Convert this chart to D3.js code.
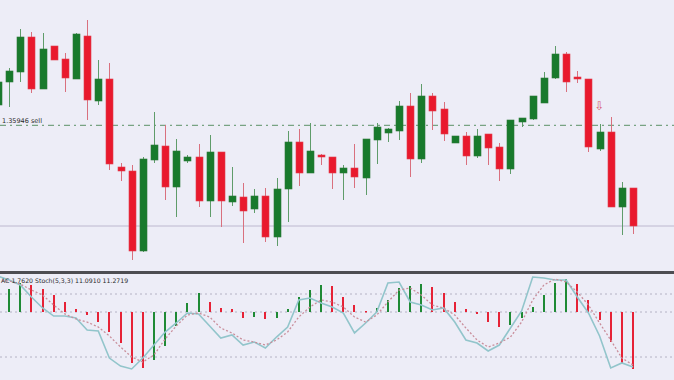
<!DOCTYPE html>
<html><head><meta charset="utf-8">
<script src="https://cdn.jsdelivr.net/npm/d3@7"></script>
<style>html,body{margin:0;padding:0;background:#ededf7;}svg{display:block;}</style>
</head><body>
<svg id="c" width="674" height="380"></svg>
<script>
// ---- data ----
const openP  = [1.3615,1.3638,1.3648,1.3683,1.3631,1.3674,1.3661,1.3641,1.3684,1.3619,1.3641,1.3553,1.3549,1.3469,1.3560,1.3574,1.3533,1.3559,1.3563,1.3519,1.3568,1.3518,1.3523,1.3511,1.3524,1.3483,1.3531,1.3578,1.3547,1.3565,1.3563,1.3547,1.3552,1.3542,1.3580,1.3587,1.3589,1.3614,1.3561,1.3624,1.3611,1.3577,1.3584,1.3564,1.3586,1.3573,1.3551,1.3598,1.3601,1.3617,1.3642,1.3666,1.3643,1.3641,1.3571,1.3588,1.3513,1.3532];
const highP  = [1.3645,1.3652,1.3691,1.3688,1.3687,1.3674,1.3667,1.3687,1.3700,1.3660,1.3657,1.3557,1.3555,1.3563,1.3608,1.3595,1.3581,1.3565,1.3576,1.3585,1.3568,1.3553,1.3537,1.3531,1.3532,1.3542,1.3589,1.3591,1.3597,1.3566,1.3563,1.3555,1.3576,1.3581,1.3597,1.3592,1.3619,1.3627,1.3636,1.3627,1.3618,1.3584,1.3588,1.3591,1.3586,1.3577,1.3600,1.3602,1.3624,1.3648,1.3674,1.3668,1.3649,1.3641,1.3596,1.3603,1.3538,1.3532];
const lowP   = [1.3608,1.3613,1.3638,1.3627,1.3631,1.3660,1.3628,1.3641,1.3600,1.3615,1.3550,1.3539,1.3460,1.3468,1.3557,1.3520,1.3503,1.3557,1.3513,1.3503,1.3493,1.3514,1.3477,1.3507,1.3478,1.3474,1.3498,1.3534,1.3547,1.3555,1.3531,1.3520,1.3532,1.3525,1.3556,1.3578,1.3580,1.3543,1.3557,1.3590,1.3579,1.3577,1.3555,1.3562,1.3555,1.3539,1.3546,1.3593,1.3600,1.3617,1.3641,1.3628,1.3637,1.3568,1.3569,1.3513,1.3485,1.3486];
const closeP = [1.3638,1.3649,1.3683,1.3631,1.3671,1.3660,1.3642,1.3686,1.3620,1.3641,1.3556,1.3549,1.3469,1.3561,1.3575,1.3533,1.3569,1.3563,1.3519,1.3568,1.3519,1.3524,1.3509,1.3524,1.3483,1.3531,1.3578,1.3547,1.3569,1.3563,1.3547,1.3552,1.3543,1.3581,1.3593,1.3591,1.3614,1.3561,1.3624,1.3609,1.3586,1.3584,1.3564,1.3584,1.3572,1.3551,1.3600,1.3602,1.3624,1.3642,1.3666,1.3638,1.3641,1.3573,1.3588,1.3513,1.3532,1.3494];
const acValues = [0.0018,0.0023,0.0029,0.0027,0.0023,0.0017,0.0010,0.0003,-0.0003,-0.0010,-0.0020,-0.0031,-0.0051,-0.0056,-0.0048,-0.0034,-0.0014,0.0009,0.0019,0.0010,0.0004,0.0003,-0.0006,-0.0005,-0.0007,-0.0006,0.0003,0.0015,0.0022,0.0027,0.0026,0.0015,0.0007,0.0001,0.0004,0.0012,0.0024,0.0026,0.0028,0.0025,0.0019,0.0010,0.0003,-0.0002,-0.0010,-0.0015,-0.0013,-0.0006,0.0005,0.0017,0.0029,0.0033,0.0028,0.0012,-0.0008,-0.0030,-0.0051,-0.0057];
const stochMain = [97,93.3,88.6,77.1,66.7,59.0,59.0,57.1,45.7,44.8,19.0,11.4,8.6,19.0,31.4,43.8,52.4,61.9,61.0,49.5,38.1,41.0,31.4,34.3,28.6,39.0,48.6,74.3,76.2,71.4,67.6,61.9,42.9,52.4,62.9,90.5,91.4,72.4,69.5,64.8,66.7,53.3,36.2,33.3,25.7,31.4,47.6,63.8,96.2,95.2,93.3,93.3,77.1,61.9,40.0,9.5,14.3,10.5];
const stochSignal = [93,92.4,89.5,83.8,79.0,69.5,61.0,56.2,53.3,48.6,40.0,29.5,20.0,15.2,21.9,37.1,49.5,60.0,61.9,58.1,47.6,42.9,36.2,34.3,31.4,36.2,43.8,58.1,67.6,74.3,72.4,67.6,58.1,53.3,60.0,72.4,83.8,85.7,79.0,69.5,66.7,60.0,47.6,36.2,29.5,33.3,39.0,53.3,74.3,88.6,94.3,91.4,81.9,69.5,52.4,36.2,19.0,12.4];
const stochLevels = [80, 20];
const sellLevel = 1.35946;
const supportLevel = 1.3494;
const arrowIndex = [54];
const arrowPrice = [1.3615];
const priceLabel = "1.35946 sell";
const indLabel = "AC 1.7620  Stoch(5,3,3) 11.0910 11.2719";

// ---- scales ----
const svg = d3.select("#c");
const W = 674;
const idx = d3.range(openP.length);
const x = d3.scaleLinear().domain([0, openP.length - 1]).range([-2, 633]);
const y = d3.scaleLinear().domain([1.3455, 1.3720]).range([265, 0]);
const yAC = d3.scaleLinear().domain([-0.0066, 0.0038]).range([378, 274]);
const yS = d3.scaleLinear().domain([0, 100]).range([378, 273]);

const GREEN = "#187a2c", RED = "#e9192d";

// backgrounds
svg.append("rect").attr("x",0).attr("y",0).attr("width",W).attr("height",271).attr("fill","#ededf7");
svg.append("rect").attr("x",0).attr("y",274).attr("width",W).attr("height",106).attr("fill","#ededf7");

// main panel levels
svg.append("line").attr("x1",0).attr("x2",W).attr("y1",y(supportLevel)).attr("y2",y(supportLevel))
  .attr("stroke","#bdb8cf").attr("stroke-width",1);
svg.append("line").attr("x1",0).attr("x2",W).attr("y1",y(sellLevel)).attr("y2",y(sellLevel))
  .attr("stroke","#78a383").attr("stroke-width",1.4).attr("stroke-dasharray","6,4,2,4");
svg.append("text").attr("x",2).attr("y",y(sellLevel)-2).text(priceLabel)
  .attr("font-family","DejaVu Sans").attr("font-size",6.5).attr("fill","#2a2a2a");

// candles
const cg = svg.append("g");
const up = i => closeP[i] >= openP[i];
cg.selectAll("line.w").data(idx).join("line")
  .attr("x1", i => Math.round(x(i)) + 0.5).attr("x2", i => Math.round(x(i)) + 0.5)
  .attr("y1", i => y(highP[i])).attr("y2", i => y(lowP[i]))
  .attr("stroke", i => up(i) ? "#5f9c6a" : "#d9707e").attr("stroke-width",1);
cg.selectAll("rect.b").data(idx).join("rect")
  .attr("x", i => Math.round(x(i)) - 3).attr("width", 7)
  .attr("y", i => y(Math.max(openP[i], closeP[i])))
  .attr("height", i => Math.max(2, Math.abs(y(openP[i]) - y(closeP[i]))))
  .attr("fill", i => up(i) ? GREEN : RED)
  .attr("stroke", i => up(i) ? "#2e7a3a" : "#e0404f").attr("stroke-width",0.6);

// signal arrow
svg.selectAll("text.arr").data(arrowIndex).join("text")
  .attr("x", (d,k) => x(d)).attr("y", (d,k) => y(arrowPrice[k]) + 5)
  .attr("text-anchor","middle").attr("font-family","DejaVu Sans").attr("font-size",12)
  .attr("fill","#d8606e").text("⇩");

// separator
svg.append("rect").attr("x",0).attr("y",271).attr("width",W).attr("height",3).attr("fill","#4d4d52");

// lower panel levels
[yAC(0), yS(stochLevels[0]), yS(stochLevels[1])].forEach(v => {
  svg.append("line").attr("x1",0).attr("x2",W).attr("y1",v).attr("y2",v)
    .attr("stroke","#b4b2c4").attr("stroke-width",1).attr("stroke-dasharray","2,3");
});

// AC histogram
const acUp = i => i === 0 ? true : acValues[i] > acValues[i-1];
svg.append("g").selectAll("rect").data(idx).join("rect")
  .attr("x", i => Math.round(x(i)) - 1).attr("width", 2)
  .attr("y", i => Math.min(yAC(0), yAC(acValues[i])))
  .attr("height", i => Math.max(1.5, Math.abs(yAC(acValues[i]) - yAC(0))))
  .attr("fill", i => acUp(i) ? "#1f8a35" : "#e62236");

// stochastic
const line = arr => d3.line().x(i => x(i)).y(i => yS(arr[i]))(idx);
svg.append("path").attr("d", line(stochMain)).attr("fill","none")
  .attr("stroke","#92c5cb").attr("stroke-width",1.6);
svg.append("path").attr("d", line(stochSignal)).attr("fill","none")
  .attr("stroke","#c98e9b").attr("stroke-width",1.3).attr("stroke-dasharray","2,2");

svg.append("text").attr("x",1).attr("y",283).text(indLabel)
  .attr("font-family","DejaVu Sans").attr("font-size",6.2).attr("fill","#2a2a2a");
</script>
</body></html>
